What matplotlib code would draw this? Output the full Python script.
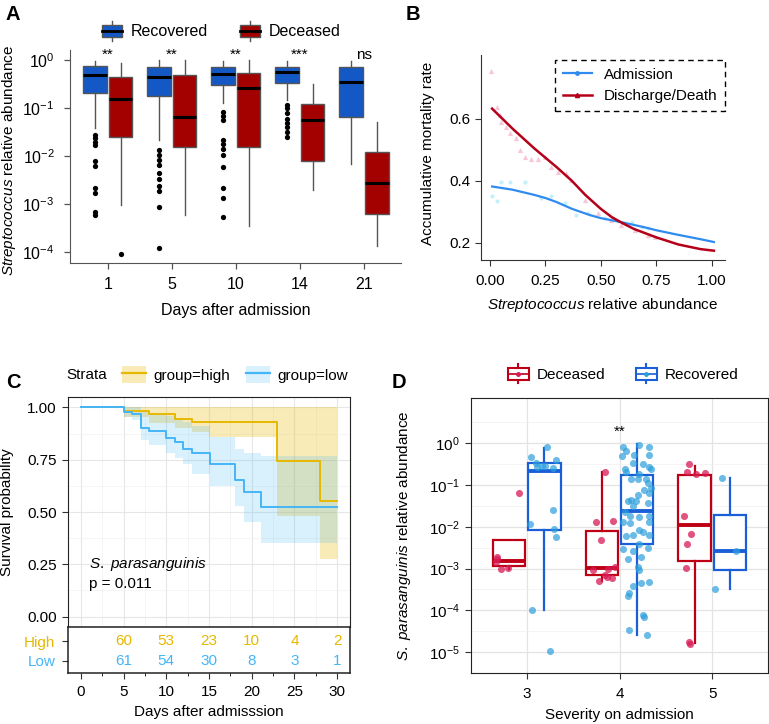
import numpy as np
import matplotlib.pyplot as plt
from matplotlib.patches import Rectangle, Patch
from matplotlib.lines import Line2D
from matplotlib.legend_handler import HandlerBase

plt.rcParams['font.family'] = ['Liberation Sans', 'DejaVu Sans']
plt.rcParams['mathtext.fontset'] = 'custom'
plt.rcParams['mathtext.rm'] = 'Liberation Sans'
plt.rcParams['mathtext.it'] = 'Liberation Sans:italic'

# ---------------- data: panel A (log10 of relative abundance) ----------------
days = ['1', '5', '10', '14', '21']
rec_whishi = [-0.03, 0.0, -0.02, -0.02, -0.02]
rec_q3 = [-0.125, -0.15, -0.15, -0.15, -0.15]
rec_med = [-0.31, -0.36, -0.29, -0.26, -0.45]
rec_q1 = [-0.69, -0.76, -0.52, -0.47, -1.18]
rec_whislo = [-1.41, -1.67, -0.90, -0.83, -2.17]
rec_out = [[-1.56, -1.63, -1.70, -1.78, -2.10, -2.20, -2.67, -2.77, -3.16, -3.23],
           [-1.88, -1.98, -2.08, -2.19, -2.35, -2.47, -2.62, -2.73, -3.07, -3.92],
           [-1.08, -1.16, -1.25, -1.67, -1.75, -1.86, -1.98, -2.22, -2.66, -2.87, -3.28],
           [-0.94, -1.01, -1.11, -1.22, -1.31, -1.40, -1.49, -1.61],
           []]
dec_whishi = [-0.07, 0.0, 0.0, -0.49, -1.30]
dec_q3 = [-0.36, -0.32, -0.28, -0.92, -1.92]
dec_med = [-0.81, -1.19, -0.58, -1.24, -2.57]
dec_q1 = [-1.60, -1.81, -1.81, -2.10, -3.21]
dec_whislo = [-3.02, -3.23, -3.46, -2.71, -3.87]
dec_out = [[-4.04], [], [], [], []]
sig_a = ['**', '**', '**', '***', 'ns']

# ---------------- data: panel B ----------------
adm_x = [0.01, 0.1, 0.2, 0.25, 0.3, 0.37, 0.45, 0.5, 0.6, 0.7, 0.75, 0.85, 0.95, 1.01]
adm_y = [0.382, 0.372, 0.355, 0.345, 0.332, 0.31, 0.29, 0.28, 0.266, 0.25, 0.241, 0.226, 0.212, 0.203]
dis_x = [0.01, 0.1, 0.2, 0.25, 0.3, 0.37, 0.43, 0.5, 0.55, 0.6, 0.65, 0.75, 0.85, 0.95, 1.01]
dis_y = [0.633, 0.57, 0.505, 0.475, 0.445, 0.40, 0.355, 0.31, 0.283, 0.263, 0.245, 0.218, 0.195, 0.18, 0.175]
adm_pts_x = [0.009, 0.03, 0.05, 0.09, 0.157, 0.232, 0.277, 0.337, 0.39, 0.443, 0.518, 0.578, 0.639, 0.684, 0.714]
adm_pts_y = [0.35, 0.334, 0.395, 0.395, 0.395, 0.344, 0.35, 0.328, 0.291, 0.296, 0.28, 0.27, 0.266, 0.253, 0.248]
dis_pts_x = [0.006, 0.03, 0.044, 0.05, 0.074, 0.09, 0.12, 0.134, 0.157, 0.187, 0.217, 0.247,
             0.277, 0.307, 0.345, 0.367, 0.428, 0.488, 0.548, 0.593, 0.654, 0.714, 0.744]
dis_pts_y = [0.754, 0.638, 0.612, 0.59, 0.574, 0.553, 0.537, 0.50, 0.478, 0.47, 0.47, 0.478,
             0.446, 0.43, 0.425, 0.403, 0.339, 0.296, 0.275, 0.259, 0.243, 0.227, 0.219]

# ---------------- data: panel C ----------------
high_t = [0, 5, 8, 11, 13, 15, 23, 28, 30]
high_s = [1, 0.984, 0.967, 0.945, 0.929, 0.929, 0.742, 0.555, 0.555]
high_lo = [1, 0.955, 0.924, 0.90, 0.885, 0.86, 0.48, 0.275, 0.275]
high_hi = [1, 1, 1, 1, 1, 1, 1, 1, 1]
low_t = [0, 5, 6, 7, 8, 10, 11, 12, 13, 15.1, 18.1, 19.1, 21.1, 30]
low_s = [1, 0.98, 0.968, 0.90, 0.888, 0.853, 0.837, 0.80, 0.78, 0.73, 0.655, 0.595, 0.524, 0.524]
low_lo = [1, 0.955, 0.94, 0.845, 0.82, 0.78, 0.758, 0.73, 0.684, 0.623, 0.528, 0.45, 0.354, 0.354]
low_hi = [1, 1, 1, 0.99, 0.975, 0.96, 0.95, 0.93, 0.91, 0.86, 0.80, 0.78, 0.77, 0.77]
risk_days = [5, 10, 15, 20, 25, 30]
risk_high = [60, 53, 23, 10, 4, 2]
risk_low = [61, 54, 30, 8, 3, 1]

# ---------------- data: panel D (log10) ----------------
sev = [3, 4, 5]
dd_stats = [[-3.02, -2.93, -2.82, -2.32, -2.32],
            [-3.30, -3.15, -2.98, -2.10, -0.69],
            [-4.79, -2.83, -1.96, -0.77, -0.54]]
dr_stats = [[-4.00, -2.08, -0.67, -0.48, -0.12],
            [-4.58, -2.41, -1.62, -0.77, -0.02],
            [-3.49, -3.03, -2.58, -1.72, -0.84]]
dd_px = [2.92, 2.68, 2.68, 2.67, 2.72, 2.80,
         3.84, 3.75, 3.93, 3.80, 3.71, 3.84, 3.95, 3.78, 3.92, 3.86, 3.88,
         4.75, 4.73, 4.82, 4.92, 4.70, 4.77, 4.73, 4.72, 4.75, 4.76]
dd_py = [-1.18, -2.72, -2.76, -2.85, -3.02, -2.98,
         -0.69, -1.88, -1.85, -2.31, -3.04, -3.15, -2.96, -3.30, -3.23, -3.19, -3.02,
         -0.50, -0.69, -0.73, -0.72, -1.74, -2.17, -2.42, -2.98, -4.75, -4.81]
dr_px = [3.22, 3.05, 3.10, 3.20, 3.32, 3.11, 3.28, 3.16, 3.04, 3.28, 3.29, 3.32, 3.06, 3.25,
         4.036, 4.065, 4.029, 4.215, 4.323, 4.315, 4.161, 4.143, 4.251, 4.323, 4.34, 4.054,
         4.072, 4.215, 4.125, 4.197, 4.287, 4.305, 4.34, 4.269, 4.323, 4.197, 4.125, 4.09,
         4.179, 4.305, 4.143, 4.054, 4.108, 4.215, 4.323, 4.036, 4.108, 4.323, 4.215, 4.251,
         4.143, 4.323, 4.072, 4.215, 4.036, 4.305, 4.143, 4.233, 4.09, 4.197, 4.215, 4.143,
         4.233, 4.323, 4.10, 4.09, 4.251, 4.269, 4.10, 4.297,
         5.10, 5.26, 5.03]
dr_py = [-0.09, -0.33, -0.46, -0.55, -0.41, -0.56, -0.58, -0.55, -1.94, -1.60, -2.04, -2.25, -4.0, -4.98,
         -0.08, -0.19, -0.31, -0.04, -0.08, -0.27, -0.27, -0.46, -0.50, -0.56, -0.62, -0.62,
         -0.69, -0.73, -0.85, -0.85, -0.85, -0.96, -1.08, -1.12, -1.19, -1.23, -1.35, -1.38,
         -1.38, -1.42, -1.50, -1.65, -1.73, -1.77, -1.73, -1.88, -1.92, -1.88, -2.08, -2.12,
         -2.19, -2.19, -2.23, -2.42, -2.54, -2.50, -2.58, -2.73, -2.77, -2.96, -3.04, -3.42,
         -3.35, -3.32, -3.58, -3.65, -4.10, -4.15, -4.46, -4.58,
         -0.82, -2.58, -3.48]

# ---------------- colours ----------------
c_rec_a, c_dec_a = '#1458C6', '#A30000'
c_high, c_low = '#E7B800', '#45B5F7'
c_dd_box, c_dr_box = '#BE0014', '#1A5FD8'
c_dd_pt, c_dr_pt = '#D81B56', '#2C9FDC'
grey = '#555555'


class BoxHandle(HandlerBase):
    def __init__(self, face, edge, mid, lw=1.0, mlw=2.0, dot=None):
        super().__init__()
        self.face, self.edge, self.mid, self.lw, self.mlw, self.dot = face, edge, mid, lw, mlw, dot

    def create_artists(self, legend, orig_handle, xdescent, ydescent, width, height, fontsize, trans):
        x0, y0 = -xdescent, -ydescent
        xc = x0 + width / 2
        arts = [Line2D([xc, xc], [y0 + height, y0 + height * 1.3], color=self.edge, lw=self.lw, transform=trans),
                Line2D([xc, xc], [y0 - height * 0.3, y0], color=self.edge, lw=self.lw, transform=trans),
                Rectangle((x0, y0), width, height, facecolor=self.face, edgecolor=self.edge,
                          lw=self.lw, transform=trans),
                Line2D([x0, x0 + width], [y0 + height / 2] * 2, color=self.mid, lw=self.mlw, transform=trans)]
        if self.dot is not None:
            arts.append(Line2D([xc], [y0 + height / 2], marker='o', ms=2.5, color=self.dot, transform=trans))
        return arts


def box_stats(rows, fliers=None):
    out = []
    for i, (lo, q1, med, q3, hi) in enumerate(rows):
        out.append(dict(whislo=10 ** lo, q1=10 ** q1, med=10 ** med, q3=10 ** q3, whishi=10 ** hi,
                        fliers=10 ** np.array(fliers[i]) if fliers else []))
    return out


fig = plt.figure(figsize=(7.69, 7.24), dpi=100)
W, H = 769, 724

# ======================= Panel A =======================
axA = fig.add_axes([70 / W, 1 - 263 / H, 331 / W, 213 / H])
pos = np.arange(len(days))
rec_rows = list(zip(rec_whislo, rec_q1, rec_med, rec_q3, rec_whishi))
dec_rows = list(zip(dec_whislo, dec_q1, dec_med, dec_q3, dec_whishi))
for rows, outs, off, col in [(rec_rows, rec_out, -0.2, c_rec_a), (dec_rows, dec_out, 0.2, c_dec_a)]:
    axA.bxp(box_stats(rows, outs), positions=pos + off, widths=0.37, patch_artist=True, showcaps=False,
            boxprops=dict(facecolor=col, edgecolor=grey, lw=1.0),
            medianprops=dict(color='black', lw=2.2),
            whiskerprops=dict(color=grey, lw=1.0),
            flierprops=dict(marker='o', markerfacecolor='black', markeredgecolor='none', markersize=3.8))
axA.set_yscale('log')
axA.set_ylim(10 ** -4.229, 10 ** 0.208)
axA.set_xlim(-0.59, 4.58)
axA.set_xticks(pos)
axA.set_xticklabels(days)
axA.set_yticks([10.0 ** k for k in range(0, -5, -1)])
axA.set_yticklabels([r'$10^{%d}$' % k for k in range(0, -5, -1)])
axA.yaxis.set_minor_locator(plt.NullLocator())
for s in ['top', 'right']:
    axA.spines[s].set_visible(False)
for s in ['left', 'bottom']:
    axA.spines[s].set_color(grey)
axA.tick_params(colors=grey, labelcolor='black', labelsize=11.5, length=4, width=0.9)
axA.tick_params(axis='y', pad=7)
axA.tick_params(axis='x', pad=6)
for i, s in enumerate(sig_a):
    axA.text(i, 10 ** 0.1, s, ha='center', va='center', fontsize=11)
axA.set_xlabel('Days after admission', fontsize=11.5, labelpad=8)
axA.set_ylabel(r'$\it{Streptococcus}$ relative abundance', fontsize=11)
axA.yaxis.set_label_coords(-0.158, 0.48)
hA = [Patch(label='Recovered'), Patch(label='Deceased')]
axA.legend(handles=hA, loc='center', bbox_to_anchor=(0.456, 1.085), ncol=2, frameon=False,
           fontsize=11.5, handlelength=1.3, handleheight=0.8, columnspacing=2.0, handletextpad=0.5,
           handler_map={hA[0]: BoxHandle(c_rec_a, grey, 'black', 1.0, 2.0),
                        hA[1]: BoxHandle(c_dec_a, grey, 'black', 1.0, 2.0)})

# ======================= Panel B =======================
axB = fig.add_axes([481 / W, 1 - 260 / H, 244 / W, 205 / H])
axB.scatter(adm_pts_x, adm_pts_y, s=9, marker='o', color='#9fe6f5', alpha=0.6, lw=0)
axB.scatter(dis_pts_x, dis_pts_y, s=14, marker='^', color='#f2a0c0', alpha=0.6, lw=0)
axB.plot(adm_x, adm_y, color='#2F8BF0', lw=1.6)
axB.plot(dis_x, dis_y, color='#B5001A', lw=1.8)
axB.set_xlim(-0.04, 1.06)
axB.set_ylim(0.145, 0.806)
axB.set_xticks([0, 0.25, 0.5, 0.75, 1.0])
axB.set_xticklabels(['0.00', '0.25', '0.50', '0.75', '1.00'])
axB.set_yticks([0.2, 0.4, 0.6])
for s in ['top', 'right']:
    axB.spines[s].set_visible(False)
for s in ['left', 'bottom']:
    axB.spines[s].set_color('#333333')
axB.tick_params(colors='#333333', labelcolor='black', labelsize=11, length=4, width=0.8)
axB.tick_params(axis='x', pad=6)
axB.set_xlabel(r'$\it{Streptococcus}$ relative abundance', fontsize=11, labelpad=6)
axB.set_ylabel('Accumulative mortality rate', fontsize=11)
axB.yaxis.set_label_coords(-0.19, 0.52)
hB = [Line2D([], [], color='#2F8BF0', lw=1.6, marker='o', ms=2.5, label='Admission'),
      Line2D([], [], color='#B5001A', lw=1.8, marker='^', ms=3, label='Discharge/Death')]
legB = axB.legend(handles=hB, loc='upper left', bbox_to_anchor=(0.303, 0.976), borderaxespad=0,
                  fontsize=11, handlelength=1.9, fancybox=False, framealpha=1, borderpad=0.5,
                  labelspacing=0.5)
legB.get_frame().set_edgecolor('black')
legB.get_frame().set_linestyle((0, (4, 3)))
legB.get_frame().set_linewidth(1.0)

# ======================= Panel C =======================
axC = fig.add_axes([68 / W, 1 - 627 / H, 282 / W, 230 / H])
axR = fig.add_axes([68 / W, 1 - 673 / H, 282 / W, 46 / H], sharex=axC)
axC.fill_between(high_t, high_lo, high_hi, step='post', color=c_high, alpha=0.28, lw=0)
axC.fill_between(low_t, low_lo, low_hi, step='post', color=c_low, alpha=0.2, lw=0)
axC.step(high_t, high_s, where='post', color=c_high, lw=1.4)
axC.step(low_t, low_s, where='post', color=c_low, lw=1.4)
axC.set_xlim(-1.5, 31.5)
axC.set_ylim(-0.05, 1.05)
axC.set_yticks([0, 0.25, 0.5, 0.75, 1.0])
axC.set_yticks([0.125, 0.375, 0.625, 0.875], minor=True)
axC.set_xticks(np.arange(0, 31, 5))
axC.set_xticks(np.arange(2.5, 31, 5), minor=True)
axC.grid(which='major', color='#E6E6E6', lw=0.8)
axC.grid(which='minor', color='#F2F2F2', lw=0.5)
axC.set_axisbelow(True)
axC.tick_params(axis='x', which='both', length=0, labelbottom=False)
axC.tick_params(axis='y', which='minor', length=0)
axC.tick_params(axis='y', labelsize=11, length=4, color='#333333', pad=4)
for s in axC.spines.values():
    s.set_color('#222222')
axC.text(1.0, 0.25, r'$\it{S.\ parasanguinis}$', fontsize=11, va='center')
axC.text(1.0, 0.155, 'p = 0.011', fontsize=11, va='center')
axC.set_ylabel('Survival probability', fontsize=11)
axC.yaxis.set_label_coords(-0.19, 0.5)
hC = [(Patch(facecolor=c_high, alpha=0.28, lw=0), Line2D([], [], color=c_high, lw=1.6)),
      (Patch(facecolor=c_low, alpha=0.2, lw=0), Line2D([], [], color=c_low, lw=1.6))]
axC.legend(hC, ['group=high', 'group=low'], loc='center left', bbox_to_anchor=(0.19, 1.097),
           ncol=2, frameon=False, fontsize=11, handlelength=1.6, handleheight=1.3,
           columnspacing=1.0, handletextpad=0.5, borderpad=0, borderaxespad=0)
axC.text(-0.005, 1.097, 'Strata', transform=axC.transAxes, fontsize=11, va='center')

for d, nh, nl in zip(risk_days, risk_high, risk_low):
    axR.text(d, 1, str(nh), color=c_high, ha='center', va='center', fontsize=11)
    axR.text(d, 0, str(nl), color=c_low, ha='center', va='center', fontsize=11)
axR.set_ylim(-0.6, 1.7)
axR.set_yticks([1, 0])
axR.set_yticklabels(['High', 'Low'])
for lab, col in zip(axR.get_yticklabels(), [c_high, c_low]):
    lab.set_color(col)
axR.set_xticks(np.arange(0, 31, 5))
axR.tick_params(labelsize=11, length=4, color='#333333', pad=5)
for s in axR.spines.values():
    s.set_color('#222222')
    s.set_linewidth(1.1)
axR.set_xlabel('Days after admisssion', fontsize=11, labelpad=4)

# ======================= Panel D =======================
axD = fig.add_axes([471 / W, 1 - 673 / H, 297 / W, 275 / H])
sev = np.array(sev)
axD.bxp(box_stats(dd_stats), positions=sev - 0.19, widths=0.35, patch_artist=True, showcaps=False,
        showfliers=False,
        boxprops=dict(facecolor='white', edgecolor=c_dd_box, lw=1.6),
        medianprops=dict(color=c_dd_box, lw=2.8),
        whiskerprops=dict(color=c_dd_box, lw=1.6))
axD.bxp(box_stats(dr_stats), positions=sev + 0.19, widths=0.35, patch_artist=True, showcaps=False,
        showfliers=False,
        boxprops=dict(facecolor='white', edgecolor=c_dr_box, lw=1.6),
        medianprops=dict(color=c_dr_box, lw=2.8),
        whiskerprops=dict(color=c_dr_box, lw=1.6))
axD.scatter(dd_px, 10 ** np.array(dd_py), s=26, color=c_dd_pt, alpha=0.75, lw=0, zorder=3)
axD.scatter(dr_px, 10 ** np.array(dr_py), s=26, color=c_dr_pt, alpha=0.7, lw=0, zorder=3)
axD.set_yscale('log')
axD.set_ylim(10 ** -5.28, 10 ** 1.085)
axD.set_xlim(2.4, 5.6)
axD.set_xticks(sev)
axD.set_xticklabels([str(v) for v in sev])
axD.set_yticks([10.0 ** k for k in range(0, -6, -1)])
axD.set_yticklabels([r'$10^{%d}$' % k for k in range(0, -6, -1)])
axD.set_yticks([10.0 ** (k + 0.5) for k in range(-6, 1)], minor=True)
axD.yaxis.set_minor_formatter(plt.NullFormatter())
axD.grid(which='major', color='#E3E3E3', lw=0.9)
axD.grid(which='minor', axis='y', color='#F0F0F0', lw=0.5)
axD.set_axisbelow(True)
axD.tick_params(which='minor', length=0)
axD.tick_params(labelsize=11, length=4, color='#333333', pad=4)
axD.tick_params(axis='x', pad=6)
for s in axD.spines.values():
    s.set_color('#222222')
axD.text(4, 10 ** 0.28, '**', ha='center', va='center', fontsize=11)
axD.set_xlabel('Severity on admission', fontsize=11, labelpad=5)
axD.set_ylabel(r'$\it{S.\ parasanguinis}$ relative abundance', fontsize=11)
axD.yaxis.set_label_coords(-0.195, 0.5)
hD = [Patch(label='Deceased'), Patch(label='Recovered')]
axD.legend(handles=hD, loc='center', bbox_to_anchor=(0.512, 1.084), ncol=2, frameon=False,
           fontsize=11, handlelength=1.4, handleheight=0.8, columnspacing=2.0, handletextpad=0.5,
           handler_map={hD[0]: BoxHandle('white', c_dd_box, c_dd_box, 1.5, 1.2, c_dd_pt),
                        hD[1]: BoxHandle('white', c_dr_box, c_dr_box, 1.5, 1.2, c_dr_pt)})

# ---------------- panel letters ----------------
for lab, x, y in [('A', 6, 15), ('B', 406, 15), ('C', 6, 383), ('D', 392, 383)]:
    fig.text(x / W, 1 - y / H, lab, fontsize=14.5, fontweight='bold', va='center')

fig.savefig('out.png', dpi=100)
